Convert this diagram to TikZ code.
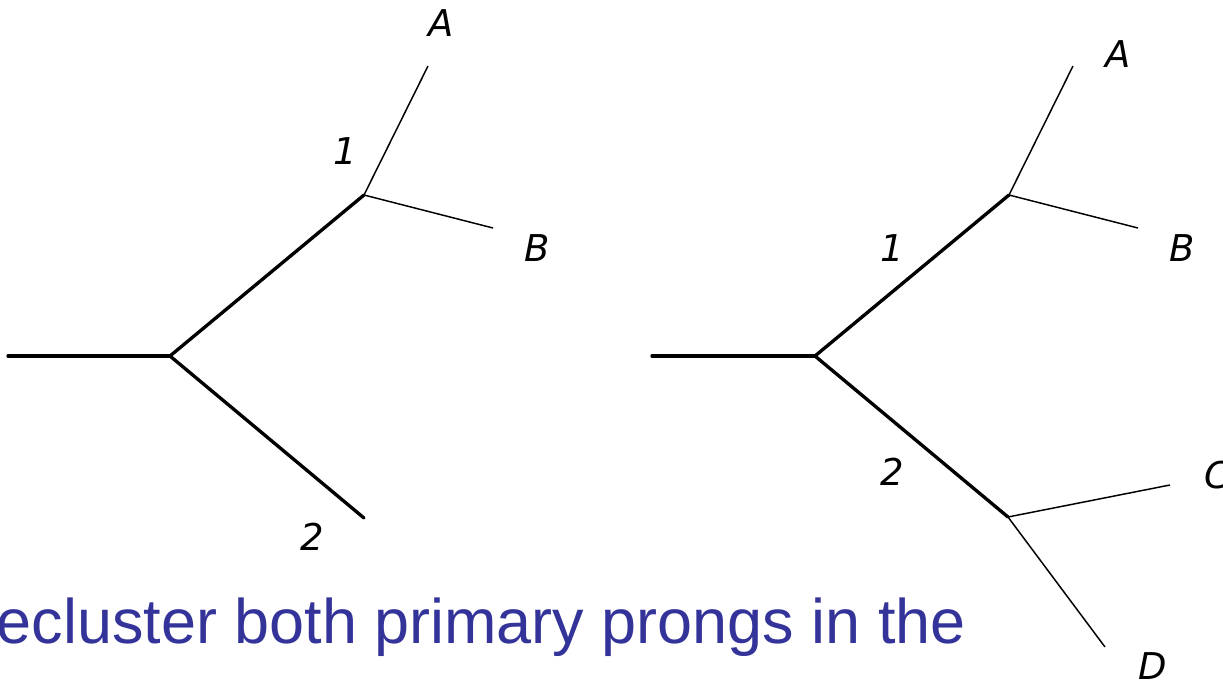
\documentclass[tikz,border=0pt]{standalone}
\usepackage{fontspec}
\setmainfont{Liberation Sans}
\newfontfamily\lblfont{DejaVu Sans}
\definecolor{captionblue}{RGB}{51,51,153}

\begin{document}
\begin{tikzpicture}[x=0.01cm, y=-0.01cm,
  thickbranch/.style={line width=0.95pt, line cap=round, line join=miter},
  thinbranch/.style={line width=0.42pt},
  lbl/.style={font=\lblfont\itshape\fontsize{10.5}{12}\selectfont, inner sep=0pt},
  caption/.style={font=\fontsize{17.9}{20}\selectfont, text=captionblue, inner sep=0pt}
]
\useasboundingbox (0,0) rectangle (1223,681);

% ---------- Left tree ----------
\coordinate (lroot) at (8,356);
\coordinate (lj) at (170,356);
\coordinate (lj1) at (364,195);
\coordinate (lend2) at (364,518);
\coordinate (lA) at (428,66);
\coordinate (lB) at (493,228);

\draw[thickbranch] (lroot) -- (lj);
\draw[thickbranch] (lj) -- (lj1);
\draw[thickbranch] (lj) -- (lend2);
\draw[thinbranch] (lj1) -- (lA);
\draw[thinbranch] (lj1) -- (lB);

\node[lbl] (lAlbl) at (441,23) {A};
\node[lbl] (lBlbl) at (537,248) {B};
\node[lbl] (l1lbl) at (345,151) {1};
\node[lbl] (l2lbl) at (312,537) {2};

% ---------- Right tree ----------
\coordinate (rroot) at (652,356);
\coordinate (rj) at (815,356);
\coordinate (rj1) at (1009,195);
\coordinate (rj2) at (1008,517);
\coordinate (rA) at (1073,66);
\coordinate (rB) at (1138,228);
\coordinate (rC) at (1170,485);
\coordinate (rD) at (1105,647);

\draw[thickbranch] (rroot) -- (rj);
\draw[thickbranch] (rj) -- (rj1);
\draw[thickbranch] (rj) -- (rj2);
\draw[thinbranch] (rj1) -- (rA);
\draw[thinbranch] (rj1) -- (rB);
\draw[thinbranch] (rj2) -- (rC);
\draw[thinbranch] (rj2) -- (rD);

\node[lbl] (rAlbl) at (1118,54) {A};
\node[lbl] (rBlbl) at (1182,248) {B};
\node[lbl] (r1lbl) at (892,248) {1};
\node[lbl] (r2lbl) at (892,472) {2};
\node[lbl, anchor=west] (rClbl) at (1204,475) {C};
\node[lbl] (rDlbl) at (1153,666) {D};

% ---------- Caption ----------
\node[caption, anchor=base west] (cap) at (-4,643) {ecluster both primary prongs in the};

\end{tikzpicture}
\end{document}
